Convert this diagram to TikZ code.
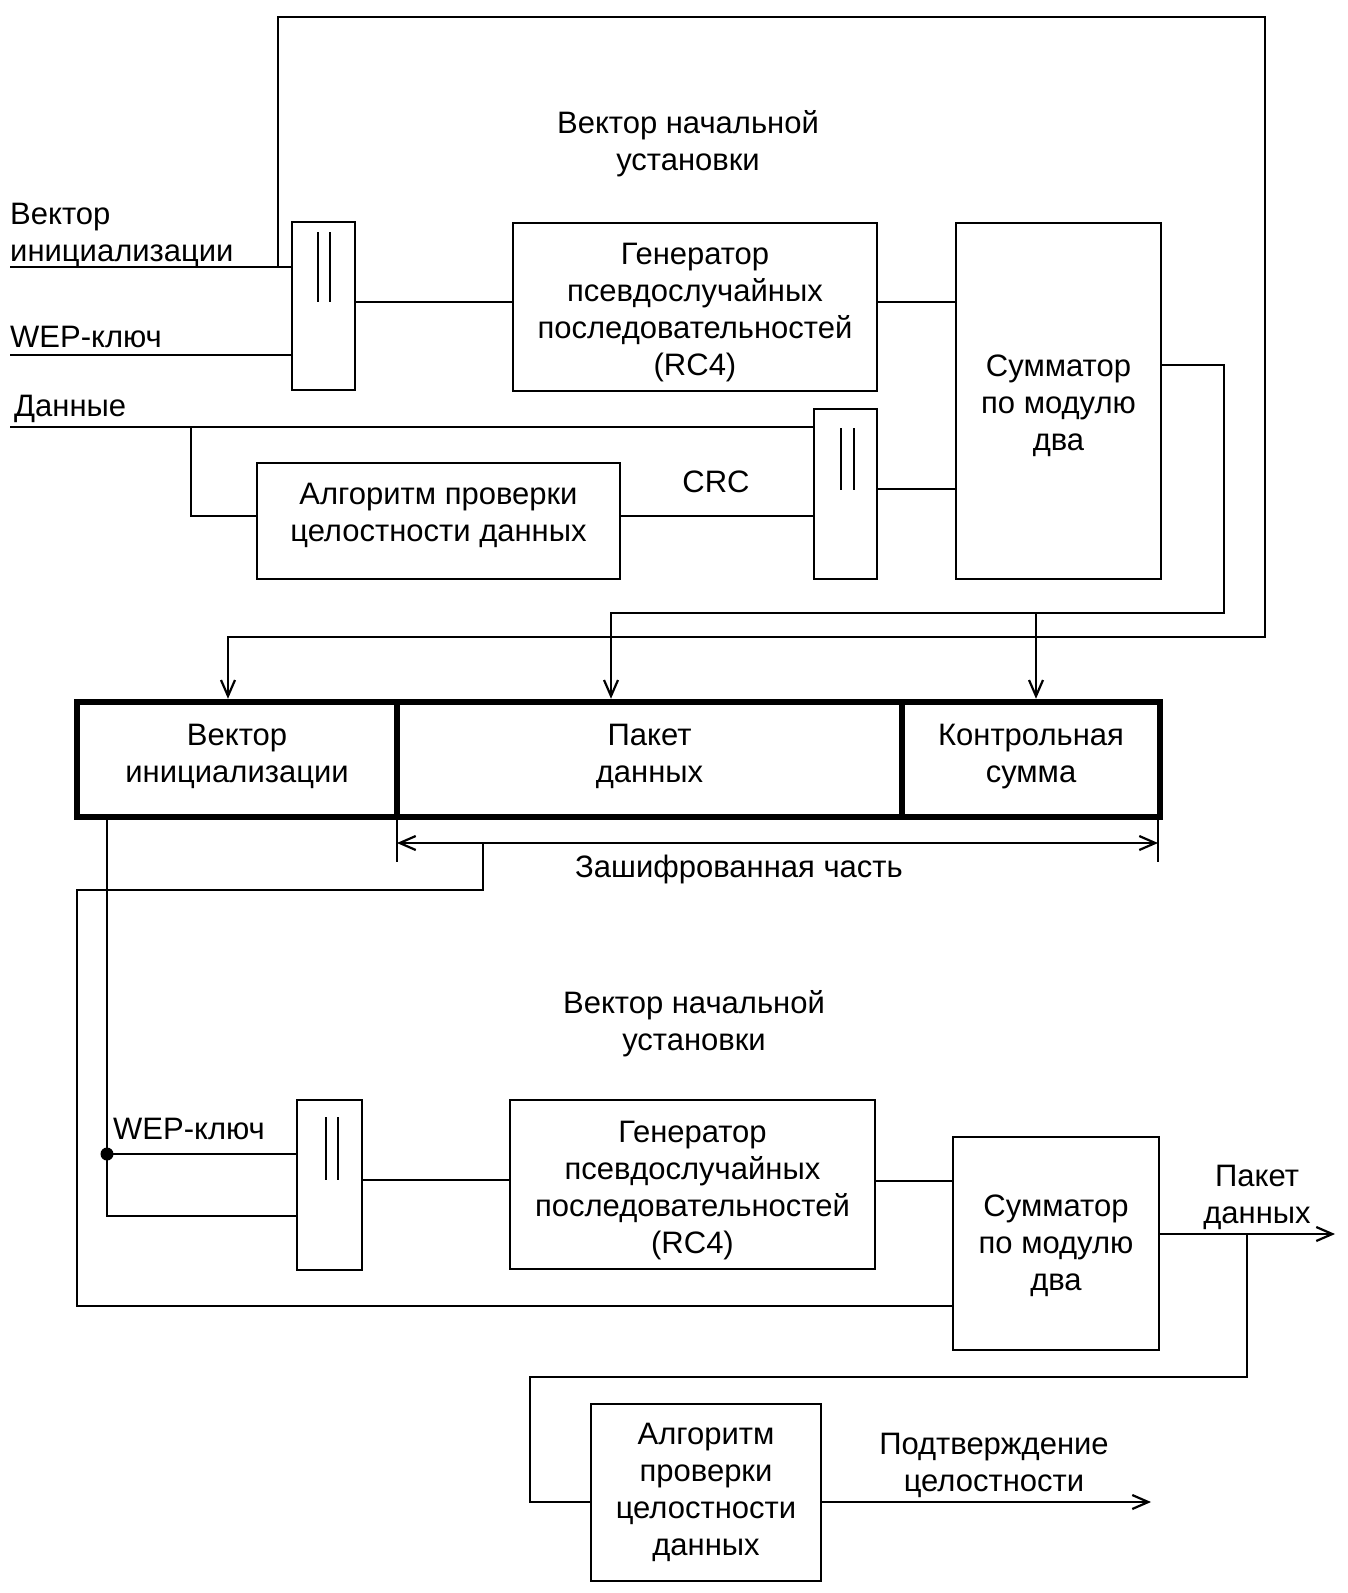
\documentclass[tikz,border=0pt]{standalone}
\usepackage{fontspec}
\setmainfont{Liberation Sans}
\usetikzlibrary{arrows.meta}
\newcommand\fsz{\fontsize{31}{37}\selectfont}
\begin{document}
\begin{tikzpicture}[x=1pt,y=-1pt,
  ln/.style={line width=2.6pt},
  box/.style={draw, line width=2.6pt, inner sep=0pt, align=center, font=\fsz},
  cell/.style={draw, line width=6.5pt, inner sep=0pt, align=center, font=\fsz},
  lbl/.style={inner sep=0pt, align=center, font=\fsz},
  arr/.style={ln, -{Straight Barb[length=16pt,width=14pt,line width=2.2pt]}},
  darr/.style={ln, {Straight Barb[length=16pt,width=14pt,line width=2.2pt]}-{Straight Barb[length=16pt,width=14pt,line width=2.2pt]}},
]
\fill[white] (0,0) rectangle (1348,1593);
\useasboundingbox (0,0) rectangle (1348,1593);

% ---------- top section ----------
\node[box, minimum width=63pt, minimum height=168pt] (mux1) at (323.5,306) {};
\node[box, minimum width=364pt, minimum height=168pt] (gen1) at (695,307) {};
\node[lbl] (gen1t) at ([yshift=-6pt]gen1.center)
  {Генератор\\псевдослучайных\\последовательностей\\(RC4)};
\node[box, minimum width=205pt, minimum height=356pt] (sum1) at (1058.5,401) {};
\node[lbl] (sum1t) at ([yshift=-5pt]sum1.center) {Сумматор\\по модулю\\два};
\node[box, minimum width=363pt, minimum height=116pt] (crc1) at (438.5,521) {};
\node[lbl] (crc1t) at ([yshift=6pt]crc1.center) {Алгоритм проверки\\целостности данных};
\node[box, minimum width=63pt, minimum height=170pt] (mux2) at (845.5,494) {};

\draw[ln] (318,232) -- (318,302) (330,232) -- (330,302);
\draw[ln] (841,428) -- (841,490) (854,428) -- (854,490);

\node[lbl] (vnu1) at (688,144) {Вектор начальной\\установки};
\node[lbl, anchor=west, align=left] (ivlbl) at (10,235) {Вектор\\инициализации};
\node[lbl, anchor=west] (weplbl) at (10,337) {WEP-ключ};
\node[lbl, anchor=west] (datlbl) at (14,409) {Данные};
\node[lbl] (crclbl) at (716,482) {CRC};

\coordinate (ivin) at (10,267);
\coordinate (wepin) at (10,355);
\coordinate (datin) at (10,427);
\coordinate (ivbr) at (278,267);
\coordinate (datbr) at (191,427);

% ---------- frame ----------
\node[cell, minimum width=320pt, minimum height=115pt] (ivc) at (237,759.5) {};
\node[cell, minimum width=505pt, minimum height=115pt] (pkc) at (649.5,759.5) {};
\node[cell, minimum width=258pt, minimum height=115pt] (csc) at (1031,759.5) {};
\node[lbl] (ivct) at ([yshift=3pt]ivc.center) {Вектор\\инициализации};
\node[lbl] (pkct) at ([yshift=3pt]pkc.center) {Пакет\\данных};
\node[lbl] (csct) at ([yshift=3pt]csc.center) {Контрольная\\сумма};

\draw[ln] (ivin) -- (ivin -| mux1.west);
\draw[ln] (wepin) -- (wepin -| mux1.west);
\draw[ln] (datin) -- (datin -| mux2.west);
\draw[ln] (datbr) |- (crc1.west |- 0,516);
\draw[ln] (crc1.east |- 0,516) -- (mux2.west |- 0,516);
\draw[ln] (mux1.east |- 0,302) -- (gen1.west |- 0,302);
\draw[ln] (gen1.east |- 0,302) -- (sum1.west |- 0,302);
\draw[ln] (mux2.east |- 0,489) -- (sum1.west |- 0,489);

\draw[arr] (ivbr) -- (278,17) -- (1265,17) -- (1265,637) -- (228,637) -- (ivc.north -| 228,0);
\draw[arr] (sum1.east |- 0,365) -- (1224,365) -- (1224,613) -- (611,613) -- (pkc.north -| 611,0);
\draw[arr] (1036,613) -- (csc.north -| 1036,0);

% encrypted part
\draw[ln] (397,820) -- (397,862);
\draw[ln] (1158,820) -- (1158,862);
\coordinate (encL) at (397,843);
\coordinate (encR) at (1158,843);
\draw[darr] (encL) -- (encR);
\node[lbl] (enclbl) at (739,869) {Зашифрованная часть};

% ---------- bottom section ----------
\node[box, minimum width=65pt, minimum height=170pt] (mux3) at (329.5,1185) {};
\draw[ln] (326,1117) -- (326,1180) (338,1117) -- (338,1180);
\node[box, minimum width=365pt, minimum height=169pt] (gen2) at (692.5,1184.5) {};
\node[lbl] (gen2t) at ([yshift=-6pt]gen2.center)
  {Генератор\\псевдослучайных\\последовательностей\\(RC4)};
\node[box, minimum width=206pt, minimum height=213pt] (sum2) at (1056,1243.5) {};
\node[lbl] (sum2t) at ([yshift=-2pt]sum2.center) {Сумматор\\по модулю\\два};
\node[box, minimum width=230pt, minimum height=177pt] (crc2) at (706,1492.5)
  {Алгоритм\\проверки\\целостности\\данных};

\node[lbl] (vnu2) at (694,1024) {Вектор начальной\\установки};
\node[lbl, anchor=west] (wep2lbl) at (113,1129) {WEP-ключ};
\node[lbl] (pd2lbl) at (1257,1197) {Пакет\\данных};
\node[lbl] (conflbl) at (994,1465) {Подтверждение\\целостности};

\coordinate (encD) at (483,843);
\draw[ln] (encD) -- (483,890) -- (77,890) -- (77,1306) -- (sum2.west |- 0,1306);

\coordinate (dot) at (107,1154);
\draw[ln] (ivc.south -| 107,0) -- (107,1216) -- (mux3.west |- 0,1216);
\draw[ln] (dot) -- (mux3.west |- 0,1154);
\fill (dot) circle (6.5pt);

\draw[ln] (mux3.east |- 0,1180) -- (gen2.west |- 0,1180);
\draw[ln] (gen2.east |- 0,1181) -- (sum2.west |- 0,1181);

\coordinate (pdout) at (1335,1234);
\draw[arr] (sum2.east |- 0,1234) -- (pdout);
\draw[ln] (1247,1234) -- (1247,1377) -- (530,1377) -- (530,1502) -- (crc2.west |- 0,1502);

\coordinate (confout) at (1151,1502);
\draw[arr] (crc2.east |- 0,1502) -- (confout);
\end{tikzpicture}
\end{document}
